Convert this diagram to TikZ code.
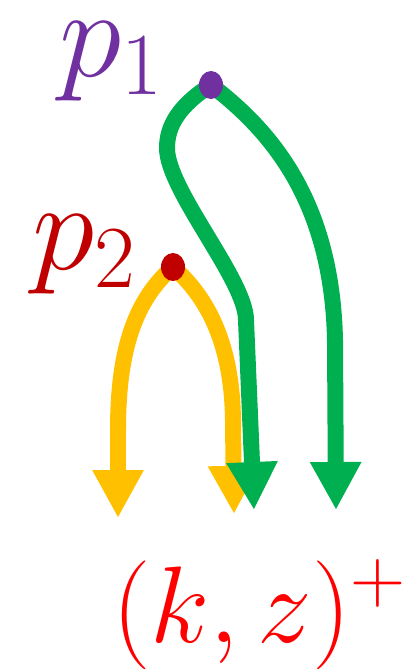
\documentclass[tikz,border=0pt]{standalone}
\usepackage{fix-cm}
\usepackage{amsmath}
\usepackage{tikz}
\usetikzlibrary{arrows.meta,positioning,backgrounds,shapes.geometric}
\definecolor{ppurple}{HTML}{7030A0}
\definecolor{dred}{HTML}{C00000}
\definecolor{pgreen}{HTML}{00B050}
\definecolor{pyellow}{HTML}{FFC000}

\begin{document}
\begin{tikzpicture}[x=0.02cm, y=-0.02cm,
    dot/.style={ellipse, fill, inner sep=0pt, minimum width=4.8mm, minimum height=5.6mm},
    flow/.style={line width=3.2mm, -{Triangle[length=9.6mm,width=9.6mm]}},
    lbl/.style={inner sep=0pt, anchor=base west, font=\fontsize{72}{72}\selectfont}]
    \useasboundingbox (0,0) rectangle (414,670);
    \node[dot, ppurple] (p1) at (211,85) {};
    \node[dot, dred] (p2) at (173,267) {};
    \node[lbl, text=ppurple] (p1lbl) at (59,76) {$p_1$};
    \node[lbl, text=dred] (p2lbl) at (32,269) {$p_2$};
    \node[lbl, text=red, font=\fontsize{62}{62}\selectfont] (kz) at (112,642) {$(k,z)^+$};
    \coordinate (yl) at (118,518);
    \coordinate (yr) at (234,514);
    \coordinate (gl) at (254,510);
    \coordinate (gr) at (336,510);
    \begin{scope}[on background layer]
      \draw[flow, pyellow] (p2.center) .. controls (135,300) and (118,350) .. (118,430) -- (yl);
      \draw[flow, pyellow] (p2.center) .. controls (205,295) and (232,340) .. (233,420) -- (yr);
      \draw[flow, pgreen] (p1.center) .. controls (180,105) and (167,125) .. (167,148)
        .. controls (167,190) and (246,280) .. (246,320) -- (gl);
      \draw[flow, pgreen] (p1.center) .. controls (270,130) and (332,200) .. (335,340) -- (gr);
    \end{scope}
  \end{tikzpicture}
\end{document}
